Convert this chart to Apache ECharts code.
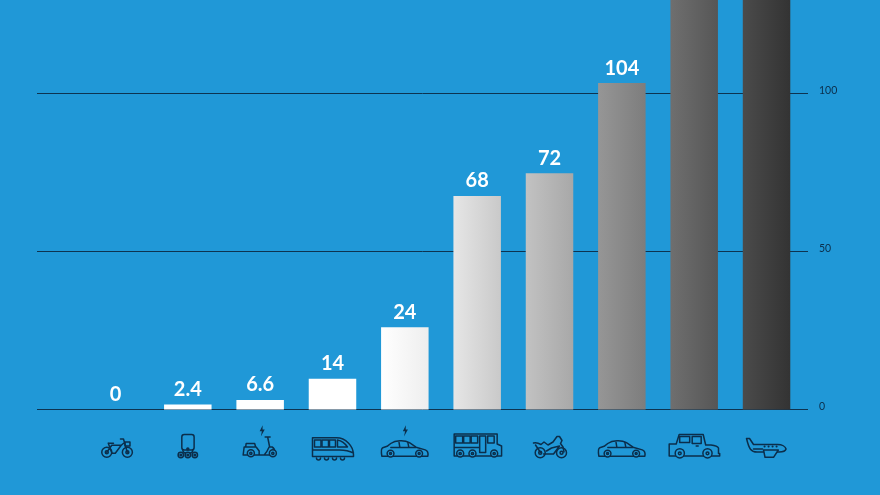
<!DOCTYPE html>
<html><head><meta charset="utf-8">
<style>html,body{margin:0;padding:0;background:#2098d7}#c{width:880px;height:495px}</style>
<script src="https://cdn.jsdelivr.net/npm/echarts@6/dist/echarts.min.js"></script>
</head><body><div id="c"></div>
<script>
const categories = ['bike','kickscooter','escooter','train','ecar','bus','motorcycle','car','suv','plane'];
const valueLabels = ['0','2.4','6.6','14','24','68','72','104','',''];
const drawnHeights = [0,1.6,3,9.7,26,67.6,74.8,103.3,135,140];
const gradLeft  = ['#ffffff','#ffffff','#ffffff','#ffffff','#ffffff','#e6e6e6','#c2c2c2','#969696','#6f6f6f','#4b4b4b'];
const gradRight = ['#ffffff','#ffffff','#ffffff','#ffffff','#eeeeee','#c9c9c9','#a8a8a8','#7d7d7d','#565656','#333333'];
const yTicks = {max:200, interval:50};
const INK = '#0b2e4b';
const BG = '#2098d7';
const wheel = (x,y,r)=>`<circle cx="${x}" cy="${y}" r="${r}" fill="${BG}"/><circle cx="${x}" cy="${y}" r="${(r*0.3).toFixed(1)}" fill="${BG}"/>`;
const bolt = (x,y)=>`<path d="M${x+1} ${y-5.500}l-3 6h2.200l-1 5.400l3.900-7h-2.200z" fill="${INK}" stroke="none"/>`;
const carBody = `<path d="M9.500 31.200h5M21 31.200h22.500M49.500 31.200h5.500c.6-3-.2-5.400-2.600-6.300l-9.200-2.700l-6.600-4.600c-5-2.800-14-2.400-18.700.9l-3.600 2.800l-4.400 1.400c-1.400.5-1.600 4-.9 8.500z"/><path d="M18 22.400h25M27 22.400l-.8-5M36 22.400l-1-5"/>`;
const icons = {
 bike:`${wheel(23.3,27.3,5)}${wheel(43.9,27.3,5)}<path d="M23.300 27.300l5-7h9.500l-6 8h-3.300l-3.700-10M25 18.300h5M37 14h3l3.900 13.300M41 17.500l-3.200 2.800"/><rect x="41.500" y="17" width="5" height="4"/>`,
 kickscooter:`<rect x="26" y="9.500" width="12.300" height="15.500" rx="2.500"/><path d="M27 25c0 2 2 3.400 5 3.400s5-1.400 5-3.400"/><circle cx="32" cy="24" r="1" fill="${INK}"/>${wheel(25,30,2.700)}${wheel(32,30,2.700)}${wheel(39,30,2.700)}`,
 escooter:`${bolt(33.5,5.7)}<path d="M15 30h27M15 30l1-8h12l3 4v4M18 18.500h8.500l1 3.500h-10zM37 12h5M39.500 12l2 10h2.500c1.800 1 2.600 3 2.600 5M41 22c-1.500 3.500-3 6-5 8"/>${wheel(22.7,28.3,3.5)}${wheel(44.7,28.3,3.5)}`,
 train:`<path d="M12 12.800h24c9 0 17 8 17 17v1.700H12zM12 25h27c5 0 10 1 14 3"/><rect x="14" y="15" width="6.500" height="7"/><rect x="21.500" y="15" width="6.500" height="7"/><rect x="29" y="15" width="6" height="7"/><path d="M37 15c5 1 8 4 10 7h-10z"/><path d="M16 33a1.600 1.600 0 0 0 4 0M24 33a1.600 1.600 0 0 0 4 0M32 33a1.600 1.600 0 0 0 4 0M40 33a1.600 1.600 0 0 0 4 0"/>`,
 ecar:`${bolt(32,5.7)}${carBody}${wheel(17.7,28.6,3.4)}${wheel(46.3,28.6,3.4)}`,
 bus:`<path d="M9 9h43v10l4.400 2v10H9zM9 22.500h25"/><rect x="10.500" y="11" width="7" height="7"/><rect x="18.500" y="11" width="6.500" height="7"/><rect x="26" y="11" width="6.500" height="7"/><rect x="34.500" y="11" width="6" height="16.500"/><rect x="42.500" y="11" width="6.500" height="7"/>${wheel(15,28.5,3.5)}${wheel(27.3,28.5,3.5)}${wheel(49,28.5,3.5)}`,
 motorcycle:`${wheel(22.7,27.7,5)}${wheel(44,27.7,5)}<path d="M16 18c3-1 5 0 7.500 1.500l3-2.500l4 3l5-3l4-5.500h2.500l2.500 4l-1.500 3l2.500 3.500l1 5M26 29h10l6-8l-8 2l-5 3M18 20l5 7.500"/>`,
 car:`${carBody}${wheel(17.7,28.6,3.4)}${wheel(46.3,28.6,3.4)}`,
 suv:`<path d="M7 31V19h7l3-9.500h24l2.500 10.500h5.300c3.500.5 6.500 1 7.500 3v5.500h1.200v2.500z"/><rect x="17.500" y="11.500" width="10" height="6"/><rect x="30" y="11.500" width="9" height="7"/><path d="M34 21h2"/>${wheel(17.6,28.3,4.6)}${wheel(45.3,28.3,4.6)}`,
 plane:`<path d="M12.500 13.500h2.500l4 6h24c4.500 0 8 2 8.500 4.500c-.5 2-3.500 3-7 3h-22c-6 0-8-3-10.500-13.500z"/><path d="M29 25h14.800l-4.800 7.300h-8.500z" fill="${BG}"/><path d="M19 24h9"/><path d="M30 21.500h.1M34 21.500h.1M38 21.500h.1M42 21.500h.1" stroke-width="2"/>`
};
const uri = s => 'data:image/svg+xml;charset=utf-8,' + encodeURIComponent(
 `<svg xmlns="http://www.w3.org/2000/svg" width="64" height="38" viewBox="0 0 64 38"><g fill="none" stroke="${INK}" stroke-width="1.5" stroke-linejoin="round" stroke-linecap="round">${s}</g></svg>`);
const rich = {};
categories.forEach(c => rich[c] = {width:64, height:38, backgroundColor:{image:uri(icons[c])}});
const PX = 3.16, BASE = 409.5, H = yTicks.max*PX, TOP = BASE-H;
const chart = echarts.init(document.getElementById('c'), null, {renderer:'canvas'});
chart.setOption({
 backgroundColor:BG,
 animation:false,
 grid:[
  {left:79.3, width:723.4, top:TOP, height:H, outerBoundsMode:'none'},
  {left:37, width:771, top:TOP, height:H, outerBoundsMode:'none'}
 ],
 xAxis:[
  {type:'category', gridIndex:0, data:categories, axisLine:{show:false}, axisTick:{show:false},
   axisLabel:{interval:0, margin:15.5, verticalAlign:'top', formatter:v=>`{${v}|}`, rich}},
  {type:'category', gridIndex:1, data:categories, show:false}
 ],
 yAxis:[
  {type:'value', gridIndex:0, min:0, max:yTicks.max, interval:yTicks.interval, show:false, splitLine:{show:false}},
  {type:'value', gridIndex:1, min:0, max:yTicks.max, interval:yTicks.interval, position:'right',
   axisLine:{show:false}, axisTick:{show:false},
   splitLine:{show:true, lineStyle:{color:'#0d3350', width:1}},
   axisLabel:{margin:11, color:INK, fontFamily:'Lato', fontSize:10.5, align:'left', verticalAlign:'bottom', lineHeight:5}}
 ],
 series:[{
  type:'bar', xAxisIndex:0, yAxisIndex:0, barWidth:47.5, z:5,
  data:drawnHeights.map((v,i)=>({value:v, itemStyle:{color:{type:'linear',x:0,y:0,x2:1,y2:0,colorStops:[{offset:0,color:gradLeft[i]},{offset:1,color:gradRight[i]}]}}})),
  label:{show:true, position:'top', distance:5, color:'#fff', fontFamily:'Lato', fontWeight:'bold', fontSize:20,
   formatter:p=>valueLabels[p.dataIndex]}
 }]
});
</script></body></html>
